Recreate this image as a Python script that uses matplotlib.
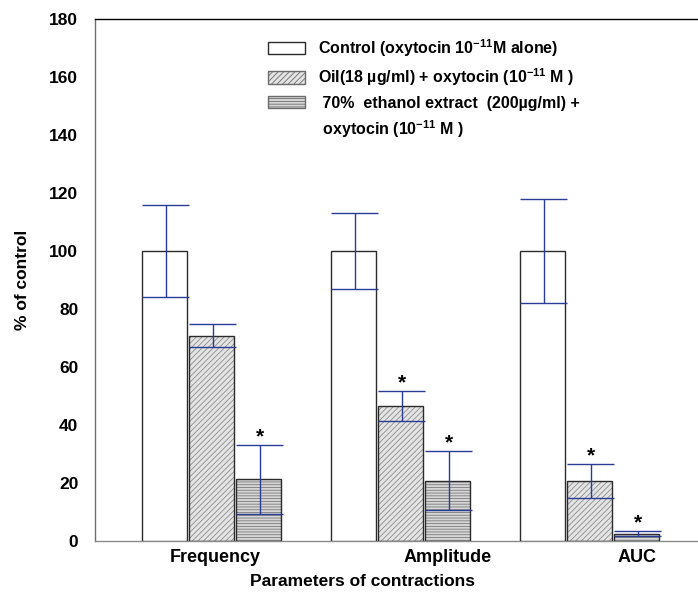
import matplotlib
matplotlib.use("Agg")
import matplotlib.pyplot as plt
from matplotlib.patches import Patch
import numpy as np

plt.rcParams['font.family'] = ['Liberation Sans', 'DejaVu Sans']
plt.rcParams['font.weight'] = 'bold'
plt.rcParams['mathtext.fontset'] = 'custom'
plt.rcParams['mathtext.rm'] = 'Liberation Sans:bold'
plt.rcParams['mathtext.bf'] = 'Liberation Sans:bold'
plt.rcParams['mathtext.default'] = 'bf'
plt.rcParams['hatch.linewidth'] = 0.6

# data
categories = ['Frequency', 'Amplitude', 'AUC']
label_shift = [0.02, 0.25, 0.25]   # tick labels are not centred on groups

control = [100, 100, 100]
control_err = [15.8, 13.0, 18.0]
oil = [70.8, 46.6, 20.7]
oil_err = [4.0, 5.2, 6.0]
ethanol = [21.3, 20.8, 2.5]
ethanol_err = [11.9, 10.2, 0.9]

oil_sig = [False, True, True]
ethanol_sig = [True, True, True]

legend_labels = [
    r'Control (oxytocin 10$^{-11}$M alone)',
    r'Oil(18 µg/ml) + oxytocin (10$^{-11}$ M )',
    ' 70%  ethanol extract  (200µg/ml) +',
    r' oxytocin (10$^{-11}$ M )',
]

fig = plt.figure(figsize=(6.98, 5.98), dpi=100)
ax = fig.add_axes([95/698, 57/598, 603/698, 522/598])

x = np.arange(len(categories))
w = 0.238
step = 0.249
ecol = '#2a3d96'

series = [
    (control, control_err, None, '#ffffff', None, [False]*3),
    (oil, oil_err, '//////', '#e4e4e4', '#8c8c8c', oil_sig),
    (ethanol, ethanol_err, '------', '#d6d6d6', '#7a7a7a', ethanol_sig),
]

for k, (vals, errs, hatch, face, hcol, sig) in enumerate(series):
    xs = x + (k - 1) * step
    if hatch:
        ax.bar(xs, vals, w, color=face, edgecolor=hcol, hatch=hatch, linewidth=0, zorder=2)
    ax.bar(xs, vals, w, facecolor='none' if hatch else face, edgecolor='#2b2b2b',
           linewidth=1.0, zorder=3)
    vals = np.array(vals)
    errs = np.array(errs)
    xe = xs + 0.006
    ax.vlines(xe, vals - errs, vals + errs, color=ecol, linewidth=1.0, zorder=4)
    ax.hlines(vals - errs, xe - w/2 - 0.005, xe + w/2 + 0.005, color=ecol, linewidth=1.0, zorder=4)
    ax.hlines(vals + errs, xe - w/2 - 0.005, xe + w/2 + 0.005, color=ecol, linewidth=1.0, zorder=4)
    for xi, v, e, s in zip(xe, vals, errs, sig):
        if s:
            ax.text(xi, v + e - 0.5, '*', ha='center', va='bottom', fontsize=15,
                    fontweight='bold', color='black', zorder=5)

ax.set_xlim((95 - 211.5) / 189, (698 - 211.5) / 189)
ax.set_ylim(0, 180)
ax.set_yticks(np.arange(0, 181, 20))
ax.set_xticks(x + np.array(label_shift))
ax.set_xticklabels(categories, fontsize=13, fontweight='bold')
ax.tick_params(axis='both', length=0)
ax.tick_params(axis='y', pad=12, labelsize=12.5)
ax.tick_params(axis='x', pad=6)

ax.spines['right'].set_visible(False)
ax.spines['top'].set_color('black')
ax.spines['left'].set_color('#6e6e6e')
ax.spines['bottom'].set_color('#8a8a8a')
for s in ['top', 'left', 'bottom']:
    ax.spines[s].set_linewidth(1.0)

ax.set_ylabel('% of control', fontsize=12.5, fontweight='bold')
ax.yaxis.set_label_coords(-(95 - 30) / 603, 0.5)
ax.set_xlabel('Parameters of contractions', fontsize=12.5, fontweight='bold')
ax.xaxis.set_label_coords((363 - 95) / 603, -(574 - 541) / 522)

handles = [
    Patch(facecolor='white', edgecolor='#2b2b2b', linewidth=1.0),
    Patch(facecolor='#e4e4e4', edgecolor='#6b6b6b', hatch='//////', linewidth=1.0),
    Patch(facecolor='#d6d6d6', edgecolor='#6b6b6b', hatch='------', linewidth=1.0),
    Patch(facecolor='none', edgecolor='none'),
]
leg = ax.legend(handles, legend_labels, loc='upper left',
                bbox_to_anchor=(268/698, 1 - 37/598), bbox_transform=fig.transFigure,
                frameon=False, fontsize=11.5, borderpad=0, borderaxespad=0,
                handlelength=2.3, handleheight=0.8, handletextpad=0.8,
                labelspacing=0.48)
for t in leg.get_texts():
    t.set_fontweight('bold')

fig.savefig('out.png', dpi=100)
